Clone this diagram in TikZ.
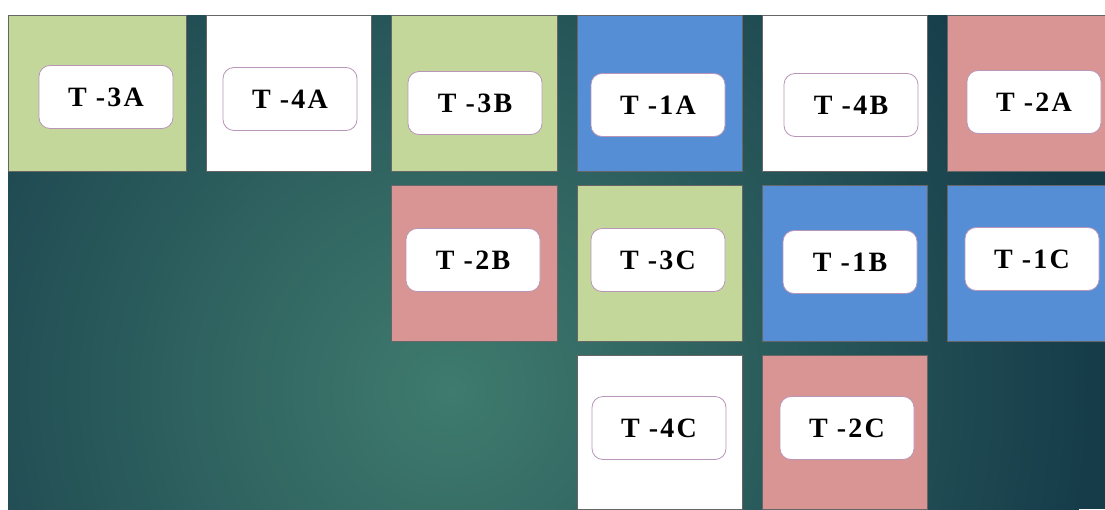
\documentclass[tikz,border=0pt]{standalone}
\usepackage{fontspec}
\newfontfamily\tilefont[LetterSpace=8.0]{Liberation Serif}
\usetikzlibrary{positioning}
\definecolor{bgdark}{HTML}{163C4A}
\definecolor{bglight}{HTML}{3F7B6E}
\definecolor{tgreen}{HTML}{C4D79B}
\definecolor{tblue}{HTML}{558ED5}
\definecolor{tpink}{HTML}{D99594}
\definecolor{lblline}{HTML}{B996B9}
\tikzset{
  tile/.style={draw=black!60,line width=0.7pt},
  lbl/.style={draw=lblline,fill=white,rounded corners=11pt,line width=0.8pt,
    minimum width=134pt,minimum height=63pt,inner sep=0pt,
    font=\tilefont\bfseries\fontsize{28}{30}\selectfont},
}

\begin{document}
\begin{tikzpicture}[x=1pt,y=-1pt]
  \useasboundingbox (0,0) rectangle (1105,509);
  % background
  \begin{scope}
    \clip (8,15) rectangle (1105,509);
    \fill[bgdark] (8,15) rectangle (1105,509);
    \shade[inner color=bglight,outer color=bgdark] (450,390) circle (640);
  \end{scope}
  % tiles and their labels
  \foreach \xa/\ya/\xb/\yb/\clr/\lx/\ly/\name/\txt in {
      8/15/186/171/tgreen/106/97/t3a/T -3A,
      206/15/371/171/white/290/99/t4a/T -4A,
      391/15/557/171/tgreen/475/103/t3b/T -3B,
      577/15/742/171/tblue/658/105/t1a/T -1A,
      762/15/927/171/white/851/105/t4b/T -4B,
      947/15/1105/171/tpink/1034/102/t2a/T -2A,
      391/185/557/341/tpink/473/260/t2b/T -2B,
      577/185/742/341/tgreen/658/260/t3c/T -3C,
      762/185/927/341/tblue/850/262/t1b/T -1B,
      947/185/1105/341/tblue/1032/259/t1c/T -1C,
      577/355/742/509/white/659/428/t4c/T -4C,
      762/355/927/509/tpink/847/428/t2c/T -2C} {
    \draw[tile,fill=\clr] (\xa,\ya) rectangle (\xb,\yb);
    \node[lbl] (\name) at (\lx,\ly) {\txt};
  }
\end{tikzpicture}
\end{document}
